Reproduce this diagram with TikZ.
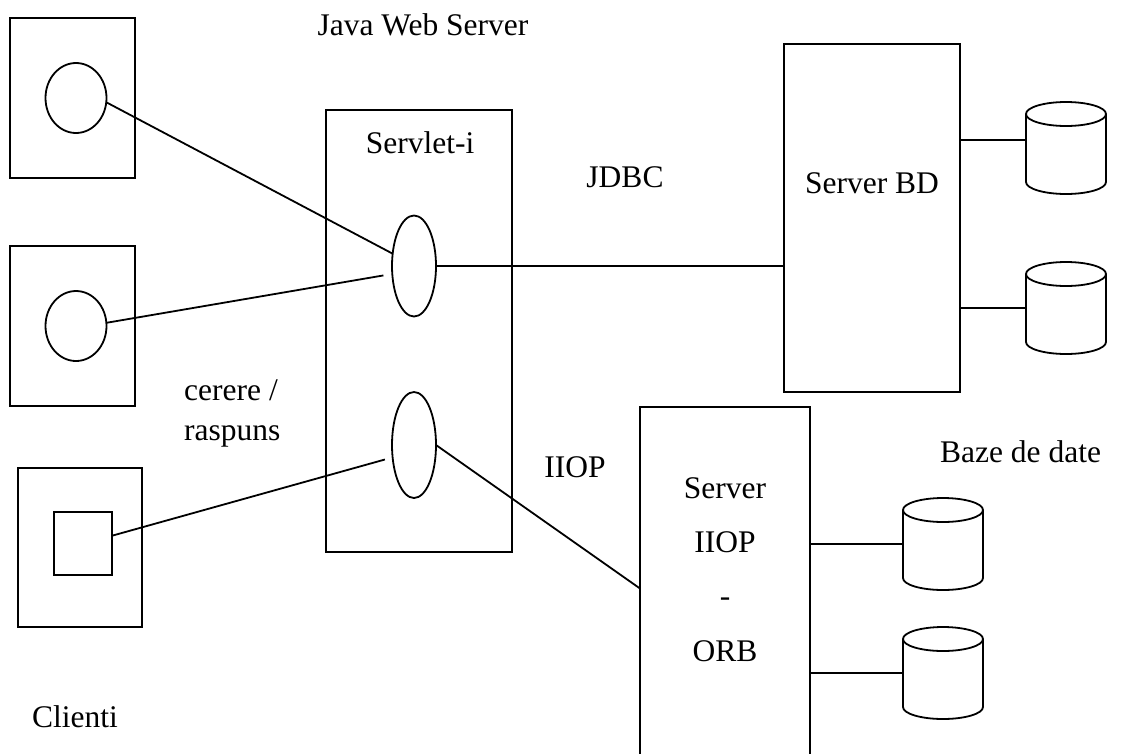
\documentclass[tikz,border=0pt]{standalone}
\usepackage{fontspec}
\setmainfont{Liberation Serif}
\usetikzlibrary{shapes.geometric,calc}

\tikzset{
  line/.style={line width=1.8pt, line cap=butt},
  box/.style={draw, line width=1.8pt, rectangle, inner sep=0pt, outer sep=0pt},
  oval/.style={draw, line width=1.8pt, ellipse, inner sep=0pt, outer sep=0pt},
  dbslot/.style={rectangle, inner sep=0pt, outer sep=0pt, minimum width=80pt},
  lbl/.style={anchor=base, inner sep=0pt, font=\fontsize{31.5}{37}\selectfont},
  lblw/.style={anchor=base west, inner sep=0pt, font=\fontsize{31.5}{37}\selectfont},
}

% database drum drawn inside a named slot node
\newcommand{\drum}[1]{%
  \draw[line width=1.8pt] ([yshift=-12pt]#1.north) ellipse [x radius=40pt, y radius=12pt];
  \draw[line width=1.8pt] ([yshift=-12pt]#1.north west) -- ([yshift=12pt]#1.south west)
    arc[start angle=180, end angle=360, x radius=40pt, y radius=12pt]
    -- ([yshift=-12pt]#1.north east);
}

\begin{document}
\begin{tikzpicture}[x=1pt, y=-1pt]
\useasboundingbox (0,0) rectangle (1121,753);
\fill[white] (0,0) rectangle (1121,753);
\clip (0,0) rectangle (1121,753);

% clients
\node[box, minimum width=125pt, minimum height=160pt] (c1) at (72.5,98) {};
\node[oval, minimum width=61pt, minimum height=70pt] (k1) at (76,98) {};
\node[box, minimum width=125pt, minimum height=160pt] (c2) at (72.5,326) {};
\node[oval, minimum width=61pt, minimum height=70pt] (k2) at (76,326) {};
\node[box, minimum width=124pt, minimum height=159pt] (c3) at (80,547.5) {};
\node[box, minimum width=58pt, minimum height=63pt] (sq) at (83,543.5) {};

% web server with servlets
\node[box, minimum width=186pt, minimum height=442pt] (ws) at (419,331) {};
\node[oval, minimum width=44pt, minimum height=101pt] (e1) at (414,266) {};
\node[oval, minimum width=44pt, minimum height=106pt] (e2) at (414,445) {};

% servers
\node[box, minimum width=176pt, minimum height=348pt] (sbd) at (872,218) {};
\node[box, minimum width=170pt, minimum height=363pt] (sio) at (725,588.5) {};

% databases
\node[dbslot, minimum height=92pt] (d1) at (1066,148) {};
\node[dbslot, minimum height=92pt] (d2) at (1066,308) {};
\node[dbslot, minimum height=92pt] (d3) at (943,544) {};
\node[dbslot, minimum height=92pt] (d4) at (943,673) {};
\drum{d1}
\drum{d2}
\drum{d3}
\drum{d4}

% connectors
\draw[line] (k1.-8) -- (e1.150);
\draw[line, shorten >=9pt] (k2.6) -- (e1.200);
\draw[line, shorten >=8pt] (sq.15) -- (e2.210);
\draw[line] (e1.east) -- (e1.east -| sbd.west);
\draw[line] (e2.east) -- (sio.west);
\coordinate (p1) at ([yshift=8pt]d1.west);
\draw[line] (p1 -| sbd.east) -- (p1);
\draw[line] (d2.west -| sbd.east) -- (d2.west);
\draw[line] (d3.west -| sio.east) -- (d3.west);
\draw[line] (d4.west -| sio.east) -- (d4.west);

% labels
\node[lbl] (tjws) at (423,35) {Java Web Server};
\node[lbl] (tsrv) at (420,153) {Servlet-i};
\node[lbl] (tjdbc) at (625,187) {JDBC};
\node[lbl] (tsbd) at (872,193) {Server BD};
\node[lblw] (tcer) at (184,400) {cerere /};
\node[lblw] (tras) at (184,440) {raspuns};
\node[lbl] (tiiop) at (575,477) {IIOP};
\node[lbl] (ts1) at (725,498) {Server};
\node[lbl] (ts2) at (725,552) {IIOP};
\node[lbl] (ts3) at (725,606) {-};
\node[lbl] (ts4) at (725,661) {ORB};
\node[lbl] (tbaze) at (1020.5,462) {Baze de date};
\node[lbl] (tcli) at (75,727) {Clienti};
\end{tikzpicture}
\end{document}
